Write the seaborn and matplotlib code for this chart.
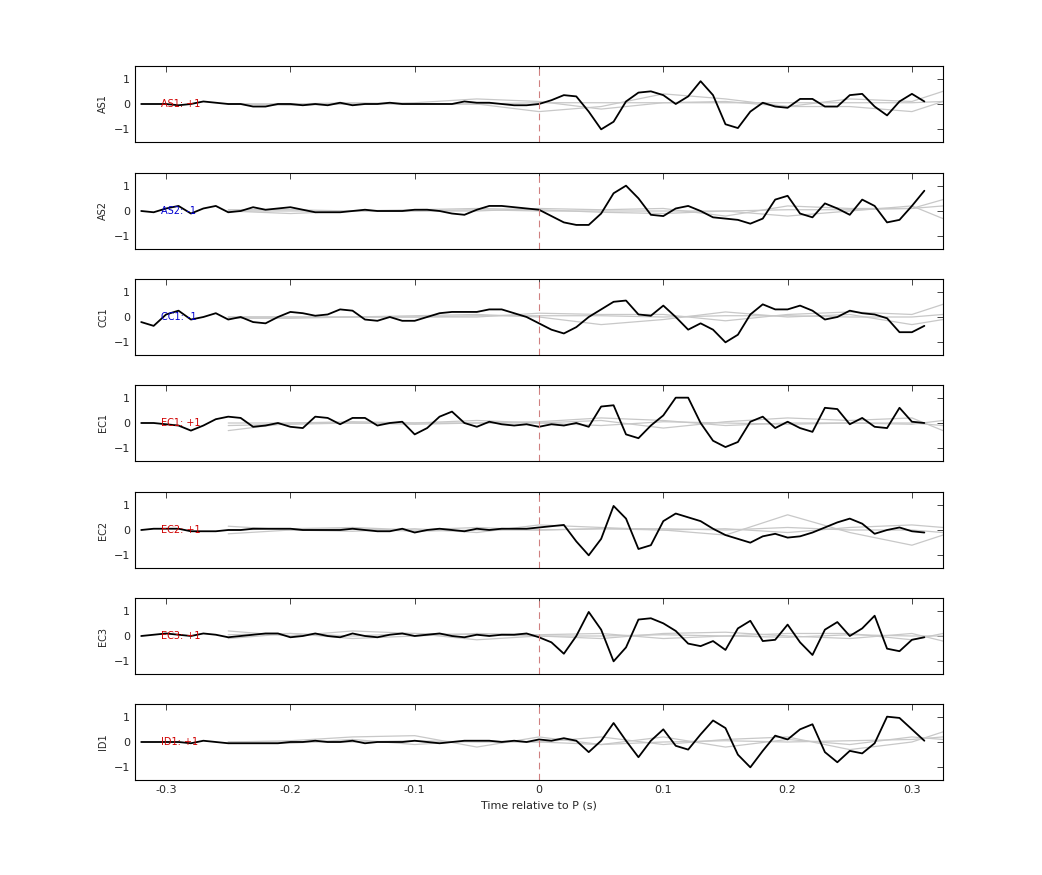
import numpy as np
import pandas as pd
import matplotlib
matplotlib.use("Agg")
import matplotlib.pyplot as plt
import seaborn as sns

stations = ["AS1", "AS2", "CC1", "EC1", "EC2", "EC3", "ID1"]
polarity = ["+1", "-1", "-1", "+1", "+1", "+1", "+1"]
times = [round(-0.32 + 0.01 * i, 2) for i in range(64)]
gray_times = [-0.25, -0.2, -0.15, -0.1, -0.05, 0.0, 0.05, 0.1, 0.15, 0.2, 0.25, 0.3, 0.325]

black = {
 "AS1": [0,0,0,-0.05,0,0.1,0.05,0,0,-0.1,-0.1,0,0,-0.05,0,-0.05,0.05,-0.05,0,0,0.05,0,0,0,0,0,0.1,0.05,0.05,0,-0.05,-0.05,
         0.0,0.15,0.35,0.3,-0.3,-1.0,-0.7,0.1,0.45,0.5,0.35,0.0,0.3,0.9,0.35,-0.8,-0.95,-0.3,0.05,-0.1,-0.15,0.2,0.2,-0.1,-0.1,0.35,0.4,-0.1,-0.45,0.1,0.4,0.1],
 "AS2": [0,-0.05,0.1,0.2,-0.1,0.1,0.2,-0.05,0,0.15,0.05,0.1,0.15,0.05,-0.05,-0.05,-0.05,0,0.05,0,0,0,0.05,0.05,0,-0.1,-0.15,0.05,0.2,0.2,0.15,0.1,
         0.05,-0.2,-0.45,-0.55,-0.55,-0.1,0.7,1.0,0.5,-0.15,-0.2,0.1,0.2,0,-0.25,-0.3,-0.35,-0.5,-0.3,0.45,0.6,-0.1,-0.25,0.3,0.1,-0.15,0.45,0.2,-0.45,-0.35,0.2,0.8],
 "CC1": [-0.2,-0.35,0.1,0.25,-0.1,0,0.15,-0.1,0,-0.2,-0.25,0,0.2,0.15,0.05,0.1,0.3,0.25,-0.1,-0.15,0,-0.15,-0.15,0,0.15,0.2,0.2,0.2,0.3,0.3,0.15,0,
         -0.25,-0.5,-0.65,-0.4,0,0.3,0.6,0.65,0.1,0.05,0.45,0,-0.5,-0.25,-0.5,-1.0,-0.7,0.1,0.5,0.3,0.3,0.45,0.25,-0.1,0,0.25,0.15,0.1,-0.05,-0.6,-0.6,-0.35],
 "EC1": [0,0,-0.05,-0.1,-0.3,-0.1,0.15,0.25,0.2,-0.15,-0.1,0,-0.15,-0.2,0.25,0.2,-0.05,0.2,0.2,-0.1,0,0.05,-0.45,-0.2,0.25,0.45,0,-0.15,0.05,-0.05,-0.1,-0.05,
         -0.15,-0.05,-0.1,0,-0.15,0.65,0.7,-0.45,-0.6,-0.1,0.3,1.0,1.0,0,-0.7,-0.95,-0.75,0.05,0.25,-0.2,0.05,-0.2,-0.35,0.6,0.55,-0.05,0.2,-0.15,-0.2,0.6,0.05,0],
 "EC2": [0,0.05,0.05,0.05,-0.05,-0.05,-0.05,0,0,0.05,0.05,0.05,0.05,0,0,0,0,0.05,0,-0.05,-0.05,0.05,-0.1,0,0.05,0,-0.05,0.05,0,0.05,0.05,0.05,
         0.1,0.15,0.2,-0.45,-1.0,-0.35,0.95,0.45,-0.75,-0.6,0.35,0.65,0.5,0.35,0.05,-0.2,-0.35,-0.5,-0.25,-0.15,-0.3,-0.25,-0.1,0.1,0.3,0.45,0.25,-0.15,0,0.1,-0.05,-0.1],
 "EC3": [0,0.05,0.1,0.05,0,0.1,0.05,-0.05,0,0.05,0.1,0.1,-0.05,0,0.1,0,-0.05,0.1,0,-0.05,0.05,0.1,0,0.05,0.1,0,-0.05,0.05,0,0.05,0.05,0.1,
         -0.05,-0.25,-0.7,0,0.95,0.25,-1.0,-0.45,0.65,0.7,0.5,0.2,-0.3,-0.4,-0.2,-0.55,0.3,0.6,-0.2,-0.15,0.45,-0.25,-0.75,0.25,0.55,0,0.3,0.8,-0.5,-0.6,-0.15,-0.05],
 "ID1": [0,0,0,0,-0.05,0.05,0,-0.05,-0.05,-0.05,-0.05,-0.05,0,0,0.05,0,0,0.05,-0.05,0,0,0,0.05,0,-0.05,0,0.05,0.05,0.05,0,0.05,0,
         0.1,0.05,0.15,0.05,-0.4,0.05,0.75,0.05,-0.6,0.05,0.5,-0.15,-0.3,0.3,0.85,0.55,-0.5,-1.0,-0.35,0.25,0.1,0.5,0.7,-0.4,-0.8,-0.35,-0.45,-0.05,1.0,0.95,0.5,0.05],
}

gray = {
 "AS1": [[0,-0.05,0,0.05,0.2,0.1,-0.2,0.05,0.1,-0.1,0.2,0.1,0.5],
         [0,0,0,0,0,-0.3,-0.1,0.4,0.2,-0.1,-0.1,-0.3,0.1],
         [0,0,0.05,0,0,0.05,0.05,0.05,0.05,0.05,0.05,0.05,0.1]],
 "AS2": [[0,-0.1,0,0.05,0.1,0.05,-0.05,-0.1,0,-0.2,0,0.2,-0.3],
         [0,0,0,0,0,0.1,0.05,0.1,-0.2,0.2,0.1,0.1,0.45],
         [0.05,0.05,0,0,0.05,0,0,0,0,0.05,0.05,0.1,0.2]],
 "CC1": [[0,0,0,0.05,0.1,0,-0.3,-0.1,0.2,0,0.1,-0.3,-0.1],
         [0,0,0,0,0,0.15,0.1,0.1,-0.15,0.1,0.2,0.1,0.5],
         [-0.05,-0.05,0,0,0.05,0.05,0.05,0,0.05,0.05,0,0,0.1]],
 "EC1": [[-0.3,0,0,0,0.1,0,0.1,-0.2,0.05,0.2,0.1,0.2,-0.3],
         [0,0,0.05,0,0,0.05,0.2,0.1,-0.1,0,0,0,-0.1],
         [-0.1,-0.05,0,-0.05,0,0,-0.1,0.05,0,-0.05,0,-0.05,0.1]],
 "EC2": [[0.15,0,-0.05,0.05,-0.1,0.2,0.1,0,-0.2,0.6,-0.1,-0.6,-0.2],
         [0,0.05,0.1,0,0.1,0,0.05,0.05,0,0.1,0,0,-0.1],
         [-0.15,0,0.05,-0.05,0,0,0.05,0,0.05,-0.1,0.1,0.2,0.1]],
 "EC3": [[0.2,0,0.2,0.1,-0.15,0,-0.1,0.1,0.15,0,-0.1,0.1,-0.2],
         [-0.1,0.1,-0.1,0,0.1,0.05,0.1,-0.1,0,0.1,0.1,-0.15,0.1],
         [0.05,0.1,0,0.1,0.05,0,0,0.05,0,-0.05,0.05,0,0]],
 "ID1": [[0,0.05,0.2,0.25,-0.2,0.2,-0.1,0.2,-0.2,0.1,-0.1,0.2,0.1],
         [-0.05,-0.05,0.1,-0.1,0.05,0,0.2,-0.1,0.1,0.2,-0.3,0,0.4],
         [0,0,0,0.05,0,0,-0.1,0,0.05,0,0.05,0.1,0.2]],
}

sns.set_style("white")
plt.rcParams['font.family'] = ['DejaVu Sans']
fig = plt.figure(figsize=(10.42, 8.75), dpi=100)
left, right = 135/1042, 943/1042
tops = [66, 173, 279, 385, 492, 598, 704]
h = 76
for i, st in enumerate(stations):
    ax = fig.add_axes([left, 1 - (tops[i] + h)/875, right - left, h/875])
    for g in gray[st]:
        sns.lineplot(x=gray_times, y=g, ax=ax, color="#c8c8c8", lw=0.9, estimator=None, sort=False)
    sns.lineplot(x=times, y=black[st], ax=ax, color="black", lw=1.3, estimator=None, sort=False)
    ax.axvline(0, color="#d08080", lw=0.8, ls=(0, (6, 4)))
    ax.text(-0.304, 0, f"{st}: {polarity[i]}", color="#d00000" if polarity[i] == "+1" else "#0000d0",
            fontsize=7, va="center", ha="left")
    ax.set_xlim(-0.325, 0.325)
    ax.set_ylim(-1.5, 1.5)
    ax.set_yticks([-1, 0, 1])
    ax.set_xticks([-0.3, -0.2, -0.1, 0, 0.1, 0.2, 0.3])
    ax.tick_params(direction="in", top=True, right=True, labelsize=8, length=4, width=0.6)
    ax.set_ylabel(st, fontsize=7)
    for s in ax.spines.values():
        s.set_linewidth(0.8)
        s.set_color("black")
    if i < len(stations) - 1:
        ax.set_xticklabels([])
    else:
        ax.set_xticklabels(["-0.3", "-0.2", "-0.1", "0", "0.1", "0.2", "0.3"])
        ax.set_xlabel("Time relative to P (s)", fontsize=8)
fig.savefig("out.png", dpi=100)
